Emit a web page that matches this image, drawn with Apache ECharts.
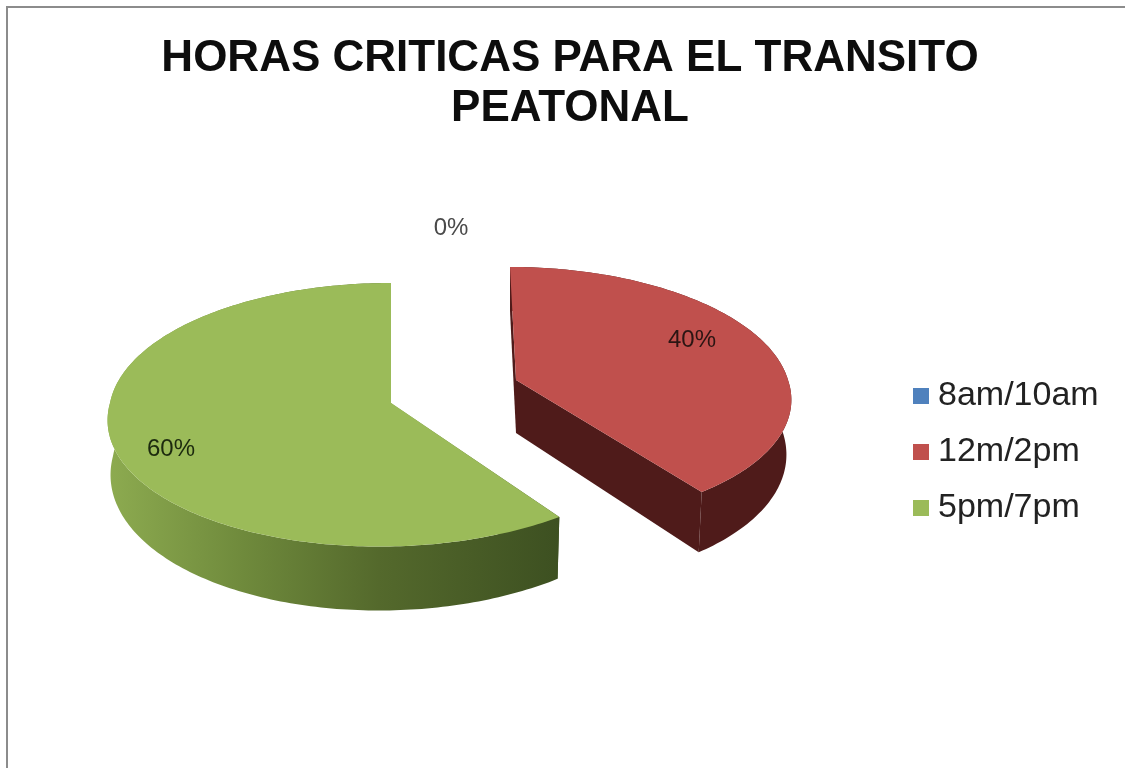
<!DOCTYPE html>
<html>
<head>
<meta charset="utf-8">
<title>Horas criticas</title>
<style>
    html,body{margin:0;padding:0;background:#fff;}
    #chart{width:1125px;height:768px;}
</style>
<script src="https://cdn.jsdelivr.net/npm/echarts@6/dist/echarts.min.js"></script>
</head>
<body>
<div id="chart"></div>
<script>
var titleText = 'HORAS CRITICAS PARA EL TRANSITO\nPEATONAL';
var categories = ['8am/10am', '12m/2pm', '5pm/7pm'];
var shares = [0, 40, 60];
var colors = ['#4f81bd', '#c0504d', '#9bbb59'];

// how each slice sits on the tilted disc (Excel's 3D pie has perspective, so each one differs a bit)
var sliceShape = [
    {cx: 451, cy: 227, rx: 280, ry: 125, k: 0.1, shearBack: 0, shearFront: 0, depth: 53, depthFront: 10, shrink: 4, labelAt: [451, 228], labelColor: '#4a4a4a'},
    {cx: 516, cy: 380, rx: 272, ry: 125.8, k: 0.113, shearBack: 6, shearFront: 12, depth: 53, depthFront: 9, shrink: 5, labelAt: [692, 340], labelColor: '#2b1513'},
    {cx: 391, cy: 403, rx: 281, ry: 130.7, k: 0.0893, shearBack: 0, shearFront: -12, depth: 53, depthFront: 11, shrink: 3, labelAt: [171, 449], labelColor: '#1c2a0e'}
];
var wallFill = [
    '#2b4a70',
    '#4f1b1a',
    new echarts.graphic.LinearGradient(0, 0, 1, 0, [
        {offset: 0, color: '#8dab50'},
        {offset: 0.3, color: '#6f8a3c'},
        {offset: 0.6, color: '#54692c'},
        {offset: 1, color: '#3d5021'}
    ])
];

var total = shares.reduce(function (a, b) { return a + b; }, 0);

function rimPoint(s, deg) {
    var a = deg * Math.PI / 180;
    var X = Math.sin(a);
    var Y = -Math.cos(a);
    var p = 1 / (1 - s.k * Y);
    var shear = Y > 0 ? s.shearFront * Y : s.shearBack * Y;
    return {x: s.cx + s.rx * X * p + shear, y: s.cy + s.ry * Y * p, X: X, Y: Y};
}

function lower(s, pt) {
    return [pt.x - s.shrink * pt.X, pt.y + s.depth + s.depthFront * pt.Y];
}

function polygon(points, fill) {
    return {type: 'polygon', shape: {points: points}, style: {fill: fill}, silent: true};
}

function renderSlice(params, api) {
    var i = params.seriesIndex;
    var s = sliceShape[i];
    var before = shares.slice(0, i).reduce(function (a, b) { return a + b; }, 0);
    var start = before / total * 360;
    var end = (before + api.value(0)) / total * 360;
    var children = [];

    if (end > start) {
        var rim = [];
        for (var d = start; d < end; d += 1) {
            rim.push(rimPoint(s, d));
        }
        rim.push(rimPoint(s, end));
        var top = rim.map(function (p) { return [p.x, p.y]; });
        var bottom = rim.map(function (p) { return lower(s, p); }).reverse();
        var apex = {x: s.cx, y: s.cy, X: 0, Y: 0};
        var first = rim[0];
        var last = rim[rim.length - 1];

        // cut faces, then outer wall, then the top face over them
        children.push(polygon([[apex.x, apex.y], [first.x, first.y], lower(s, first), lower(s, apex)], wallFill[i]));
        children.push(polygon([[apex.x, apex.y], [last.x, last.y], lower(s, last), lower(s, apex)], wallFill[i]));
        children.push(polygon(top.concat(bottom), wallFill[i]));
        children.push(polygon([[apex.x, apex.y]].concat(top), colors[i]));
    }

    children.push({
        type: 'text',
        silent: true,
        style: {
            x: s.labelAt[0],
            y: s.labelAt[1],
            text: Math.round(api.value(0) / total * 100) + '%',
            align: 'center',
            verticalAlign: 'middle',
            fill: s.labelColor,
            font: '24px "Liberation Sans"'
        }
    });
    return {type: 'group', children: children};
}

var myChart = echarts.init(document.getElementById('chart'));

myChart.setOption({
    animation: false,
    backgroundColor: '#ffffff',
    title: {
        text: titleText,
        left: 565,
        top: 29,
        textAlign: 'center',
        textStyle: {
            fontFamily: 'Liberation Sans',
            fontWeight: 'bold',
            fontSize: 44,
            lineHeight: 50,
            color: '#0d0d0d'
        }
    },
    legend: {
        orient: 'vertical',
        left: 913,
        top: 376,
        padding: 0,
        icon: 'rect',
        itemWidth: 16,
        itemHeight: 16,
        itemGap: 16,
        data: categories,
        selectedMode: false,
        textStyle: {
            fontFamily: 'Liberation Sans',
            fontSize: 34,
            lineHeight: 40,
            color: '#222222',
            padding: [0, 0, 0, 4]
        }
    },
    graphic: [
        {type: 'line', silent: true, shape: {x1: 7, y1: 7, x2: 7, y2: 768}, style: {stroke: '#8c8c8c', lineWidth: 2}},
        {type: 'line', silent: true, shape: {x1: 6, y1: 7, x2: 1125, y2: 7}, style: {stroke: '#8c8c8c', lineWidth: 2}}
    ],
    series: categories.map(function (name, i) {
        return {
            type: 'custom',
            name: name,
            coordinateSystem: 'none',
            renderItem: renderSlice,
            itemStyle: {color: colors[i]},
            data: [[shares[i]]]
        };
    })
});
</script>
</body>
</html>
